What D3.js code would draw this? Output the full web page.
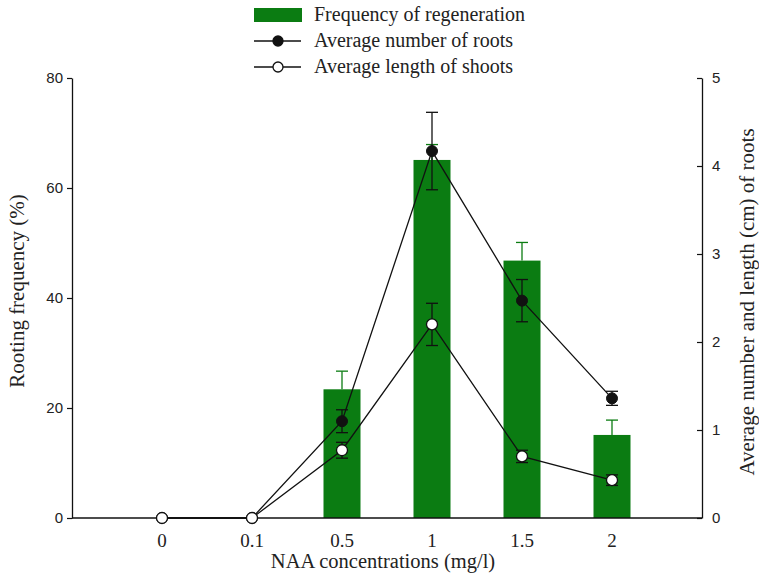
<!DOCTYPE html>
<html>
<head>
<meta charset="utf-8">
<script src="https://cdn.jsdelivr.net/npm/d3@7"></script>
<style>
  body { margin: 0; background: #fff; }
  svg { display: block; }
  .serif { font-family: "Liberation Serif", "Times New Roman", serif; }
  .sans { font-family: "Liberation Sans", Arial, sans-serif; }
</style>
</head>
<body>
<div id="app"></div>
<script>
// DATA
const concentrations = ['0', '0.1', '0.5', '1', '1.5', '2'];
const rootingFreq = [0, 0, 23.4, 65.1, 46.8, 15.1];
const rootingFreqErr = [0, 0, 3.3, 2.8, 3.3, 2.7];
const rootNumber = [0, 0, 1.10, 4.17, 2.47, 1.36];
const rootNumberErr = [0, 0, 0.13, 0.44, 0.24, 0.08];
const shootLength = [0, 0, 0.77, 2.20, 0.70, 0.43];
const shootLengthErr = [0, 0, 0.09, 0.24, 0.07, 0.06];
const leftTicks = [0, 20, 40, 60, 80];
const rightTicks = [0, 1, 2, 3, 4, 5];
const legendLabels = ['Frequency of regeneration', 'Average number of roots', 'Average length of shoots'];

const width = 759, height = 576;
const green = '#0b7c12';
const plot = { left: 72, right: 702, top: 78, bottom: 518 };

const svg = d3.select('#app').append('svg')
  .attr('width', width)
  .attr('height', height);

const x = d3.scalePoint()
  .domain(concentrations)
  .range([plot.left, plot.right])
  .padding(1);

const yLeft = d3.scaleLinear().domain([0, 80]).range([plot.bottom, plot.top]);
const yRight = d3.scaleLinear().domain([0, 5]).range([plot.bottom, plot.top]);

const barWidth = 37;
const capW = 6;

// bars
const rows = concentrations.map((c, i) => ({
  c, freq: rootingFreq[i], freqErr: rootingFreqErr[i],
  num: rootNumber[i], numErr: rootNumberErr[i],
  len: shootLength[i], lenErr: shootLengthErr[i]
}));

svg.append('g')
  .selectAll('rect')
  .data(rows.filter(d => d.freq > 0))
  .join('rect')
    .attr('x', d => x(d.c) - barWidth / 2)
    .attr('y', d => yLeft(d.freq))
    .attr('width', barWidth)
    .attr('height', d => yLeft(0) - yLeft(d.freq))
    .attr('fill', green);

// green error bars (upper only)
const gErr = svg.append('g').attr('stroke', green).attr('stroke-width', 1.3);
rows.filter(d => d.freq > 0).forEach(d => {
  const cx = x(d.c), top = yLeft(d.freq + d.freqErr);
  gErr.append('line').attr('x1', cx).attr('x2', cx).attr('y1', yLeft(d.freq)).attr('y2', top);
  gErr.append('line').attr('x1', cx - capW).attr('x2', cx + capW).attr('y1', top).attr('y2', top);
});

// axes
const axLeft = svg.append('g')
  .attr('transform', `translate(${plot.left},0)`)
  .call(d3.axisLeft(yLeft).tickValues(leftTicks).tickSize(5).tickSizeOuter(0).tickPadding(4));
const axRight = svg.append('g')
  .attr('transform', `translate(${plot.right},0)`)
  .call(d3.axisRight(yRight).tickValues(rightTicks).tickFormat(d3.format('d'))
    .tickSize(-5).tickSizeOuter(0).tickPadding(10));
[axLeft, axRight].forEach(a => {
  a.selectAll('text').attr('class', 'sans').style('font-size', '15px').attr('fill', '#222');
  a.select('.domain').attr('stroke', '#111').attr('stroke-width', 1.3);
  a.selectAll('.tick line').attr('stroke', '#111').attr('stroke-width', 1.2);
  a.attr('font-family', null);
});
svg.append('line')
  .attr('x1', plot.left).attr('x2', plot.right)
  .attr('y1', plot.bottom).attr('y2', plot.bottom)
  .attr('stroke', '#111').attr('stroke-width', 1.5);

// x tick labels
svg.append('g')
  .selectAll('text')
  .data(concentrations)
  .join('text')
    .attr('class', 'serif')
    .attr('x', d => x(d))
    .attr('y', 547)
    .attr('text-anchor', 'middle')
    .style('font-size', '19px')
    .attr('fill', '#222')
    .text(d => d);

// axis titles
svg.append('text').attr('class', 'serif')
  .attr('x', 383).attr('y', 568)
  .attr('text-anchor', 'middle').style('font-size', '20.5px').attr('fill', '#222')
  .text('NAA concentrations (mg/l)');
svg.append('text').attr('class', 'serif')
  .attr('transform', 'translate(24,291) rotate(-90)')
  .attr('text-anchor', 'middle').style('font-size', '21px').attr('fill', '#222')
  .text('Rooting frequency (%)');
svg.append('text').attr('class', 'serif')
  .attr('transform', 'translate(754,302) rotate(-90)')
  .attr('text-anchor', 'middle').style('font-size', '21px').attr('fill', '#222')
  .text('Average number and length (cm) of roots');

// lines
const line = key => d3.line().x(d => x(d.c)).y(d => yRight(d[key]));
svg.append('path').datum(rows).attr('d', line('num'))
  .attr('fill', 'none').attr('stroke', '#111').attr('stroke-width', 1.3);
svg.append('path').datum(rows).attr('d', line('len'))
  .attr('fill', 'none').attr('stroke', '#111').attr('stroke-width', 1.3);

// black error bars
const bErr = svg.append('g').attr('stroke', '#111').attr('stroke-width', 1.3);
[['num', 'numErr'], ['len', 'lenErr']].forEach(([k, e]) => {
  rows.filter(d => d[e] > 0).forEach(d => {
    const cx = x(d.c), lo = yRight(d[k] - d[e]), hi = yRight(d[k] + d[e]);
    bErr.append('line').attr('x1', cx).attr('x2', cx).attr('y1', lo).attr('y2', hi);
    bErr.append('line').attr('x1', cx - capW).attr('x2', cx + capW).attr('y1', lo).attr('y2', lo);
    bErr.append('line').attr('x1', cx - capW).attr('x2', cx + capW).attr('y1', hi).attr('y2', hi);
  });
});

// markers
svg.append('g').selectAll('circle').data(rows).join('circle')
  .attr('cx', d => x(d.c)).attr('cy', d => yRight(d.num)).attr('r', 5.5)
  .attr('fill', '#111').attr('stroke', '#111').attr('stroke-width', 1);
svg.append('g').selectAll('circle').data(rows).join('circle')
  .attr('cx', d => x(d.c)).attr('cy', d => yRight(d.len)).attr('r', 5.5)
  .attr('fill', '#fff').attr('stroke', '#111').attr('stroke-width', 1.3);

// legend
const legend = svg.append('g');
const legY = [15, 41, 67];
legend.append('rect').attr('x', 254).attr('y', legY[0] - 7).attr('width', 48).attr('height', 14).attr('fill', green);
[1, 2].forEach(i => {
  legend.append('line').attr('x1', 254).attr('x2', 301).attr('y1', legY[i]).attr('y2', legY[i])
    .attr('stroke', '#111').attr('stroke-width', 1.3);
  legend.append('circle').attr('cx', 278).attr('cy', legY[i]).attr('r', 5)
    .attr('fill', i === 1 ? '#111' : '#fff').attr('stroke', '#111').attr('stroke-width', 1.3);
});
legend.selectAll('text.leg').data(legendLabels).join('text')
  .attr('class', 'serif leg')
  .attr('x', 314).attr('y', (d, i) => legY[i] + 6)
  .style('font-size', '20px').attr('fill', '#222')
  .text(d => d);
</script>
</body>
</html>
